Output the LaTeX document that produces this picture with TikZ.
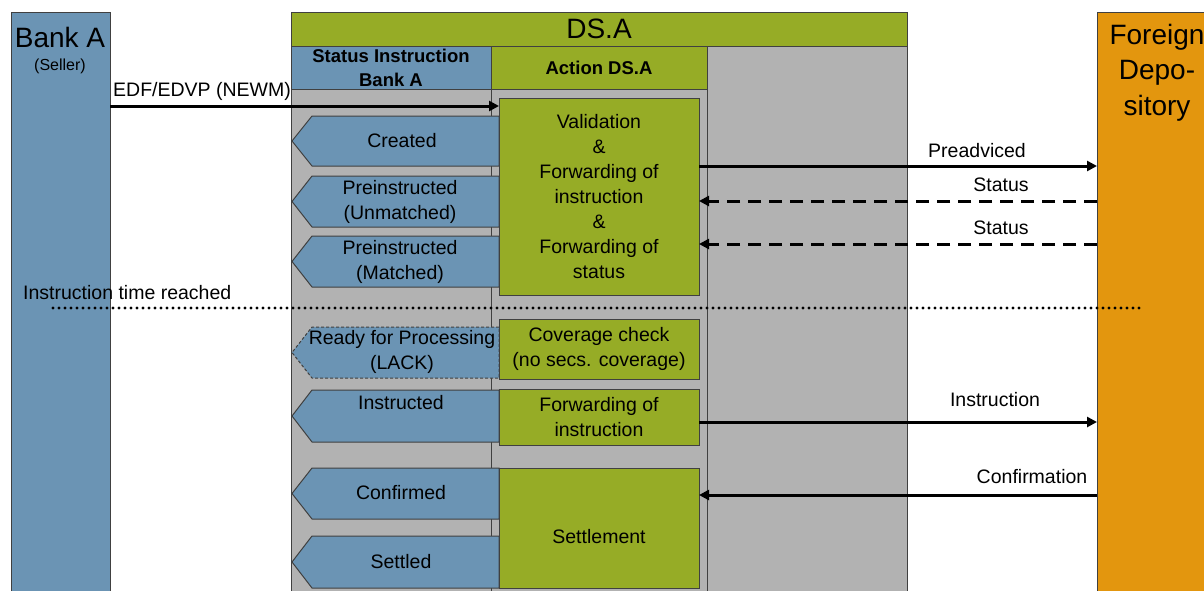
\documentclass[tikz,border=0pt]{standalone}
\usepackage{fontspec}
\setmainfont{Liberation Sans}
\usetikzlibrary{arrows.meta}
\definecolor{bblue}{RGB}{107,148,180}
\definecolor{dgreen}{RGB}{150,172,38}
\definecolor{cgray}{RGB}{178,178,178}
\definecolor{forange}{RGB}{227,150,14}
\definecolor{edgec}{RGB}{64,64,64}
\newcommand{\stshape}[3][]{\path[stfill,#1] (499,#2) -- (312,#2) -- (292,{(#2+#3)/2}) -- (312,#3) -- (499,#3) -- cycle;}
\begin{document}
\begin{tikzpicture}[x=1pt,y=-1pt,
  every node/.style={font=\fontsize{19.5}{25}\selectfont, text=black},
  frame/.style={draw=edgec, line width=1pt, inner sep=0pt, outer sep=0pt, anchor=north west, align=center},
  bluebox/.style={frame, fill=bblue},
  greenbox/.style={frame, fill=dgreen},
  graybox/.style={frame, fill=cgray},
  stfill/.style={draw=edgec, line width=1pt, fill=bblue},
  lackstyle/.style={dash pattern=on 3pt off 2pt},
  divider/.style={draw=edgec, line width=1pt},
  arr/.style={line width=3pt, -{Triangle[length=10pt,width=10pt]}},
  darr/.style={arr, dash pattern=on 13pt off 8pt},
  dotline/.style={line width=3.2pt, line cap=round, dash pattern=on 0pt off 6pt},
  lbl/.style={inner sep=0pt},
  big/.style={font=\fontsize{28}{35.5}\selectfont},
  head/.style={font=\bfseries\fontsize{18.5}{24}\selectfont},
]
\clip (0,0) rectangle (1204,590);
\fill[white] (0,0) rectangle (1204,590);

% Bank A
\node[bluebox, minimum width=99pt, minimum height=600pt] (bankA) at (11,12) {};
\node[lbl, big] (bankAt) at (60,37) {Bank A};
\node[lbl, font=\fontsize{16}{18}\selectfont] (seller) at (60,66) {(Seller)};

% DS.A column
\node[graybox, minimum width=616pt, minimum height=560pt] (dscol) at (291,46) {};
\node[greenbox, minimum width=616pt, minimum height=34.5pt, big] (dsa) at (291,12) {DS.A};
\node[bluebox, minimum width=200pt, minimum height=43pt, head] (hstatus) at (291,46) {Status Instruction\\Bank A};
\node[greenbox, minimum width=216pt, minimum height=43pt, head] (haction) at (491,46) {Action DS.A};
\draw[divider] (haction.south west) -- (haction.south west |- dscol.south);
\draw[divider] (haction.south east) -- (haction.south east |- dscol.south);

% Foreign depository
\node[frame, fill=forange, minimum width=140pt, minimum height=600pt] (foreign) at (1097,12) {};
\node[lbl, big, align=center] (foreignt) at (1157,72.5) {Foreign\\Depo-\\sitory};

% status shapes
\stshape{116}{166}
\stshape{176}{227}
\stshape{236}{287}
\stshape[lackstyle]{327}{378}
\stshape{390}{442}
\stshape{468}{519}
\stshape{536}{588}
\node[lbl] (created) at (402,141) {Created};
\node[lbl, align=center] (unmatched) at (400,201.5) {Preinstructed\\(Unmatched)};
\node[lbl, align=center] (matched) at (400,261.5) {Preinstructed\\(Matched)};
\node[lbl, align=center] (lack) at (402,352) {Ready for Processing\\(LACK)};
\node[lbl] (instructed) at (401,403) {Instructed};
\node[lbl] (confirmed) at (401,493) {Confirmed};
\node[lbl] (settled) at (401,562) {Settled};

% action boxes
\node[greenbox, minimum width=200pt, minimum height=197pt] (validation) at (499,98) {};
\node[lbl, align=center] (validationt) at (validation.center) {Validation\\\&\\Forwarding of\\instruction\\\&\\Forwarding of\\status};
\node[greenbox, minimum width=200pt, minimum height=60pt] (coverage) at (499,319) {Coverage check\\(no secs. coverage)};
\node[greenbox, minimum width=200pt, minimum height=56pt] (fwdinstr) at (499,389) {Forwarding of\\instruction};
\node[greenbox, minimum width=200pt, minimum height=120pt] (settlement) at (499,468) {};
\node[lbl] (settlementt) at (599,537) {Settlement};

% connectors
\coordinate (yedf) at (0,106);
\coordinate (ypre) at (0,166);
\coordinate (ystat1) at (0,201);
\coordinate (ystat2) at (0,244);
\coordinate (yinstr) at (0,422);
\coordinate (yconf) at (0,495);
\draw[arr] (bankA.east |- yedf) -- (validation.west |- yedf);
\draw[arr] (validation.east |- ypre) -- (foreign.west |- ypre);
\draw[darr] (foreign.west |- ystat1) -- (validation.east |- ystat1);
\draw[darr] (foreign.west |- ystat2) -- (validation.east |- ystat2);
\draw[arr] (fwdinstr.east |- yinstr) -- (foreign.west |- yinstr);
\draw[arr] (foreign.west |- yconf) -- (settlement.east |- yconf);

\node[lbl, anchor=west] (edf) at (113,91) {EDF/EDVP (NEWM)};
\node[lbl] (preadv) at (977,151) {Preadviced};
\node[lbl] (stat1) at (1001,185) {Status};
\node[lbl] (stat2) at (1001,228) {Status};
\node[lbl] (instrl) at (995,400) {Instruction};
\node[lbl] (confl) at (1032,477) {Confirmation};

% instruction time reached
\coordinate (dotL) at (53,308);
\coordinate (dotR) at (1142,308);
\draw[dotline] (dotL) -- (dotR);
\node[lbl, anchor=west] (itime) at (23,293) {Instruction time reached};
\end{tikzpicture}
\end{document}
